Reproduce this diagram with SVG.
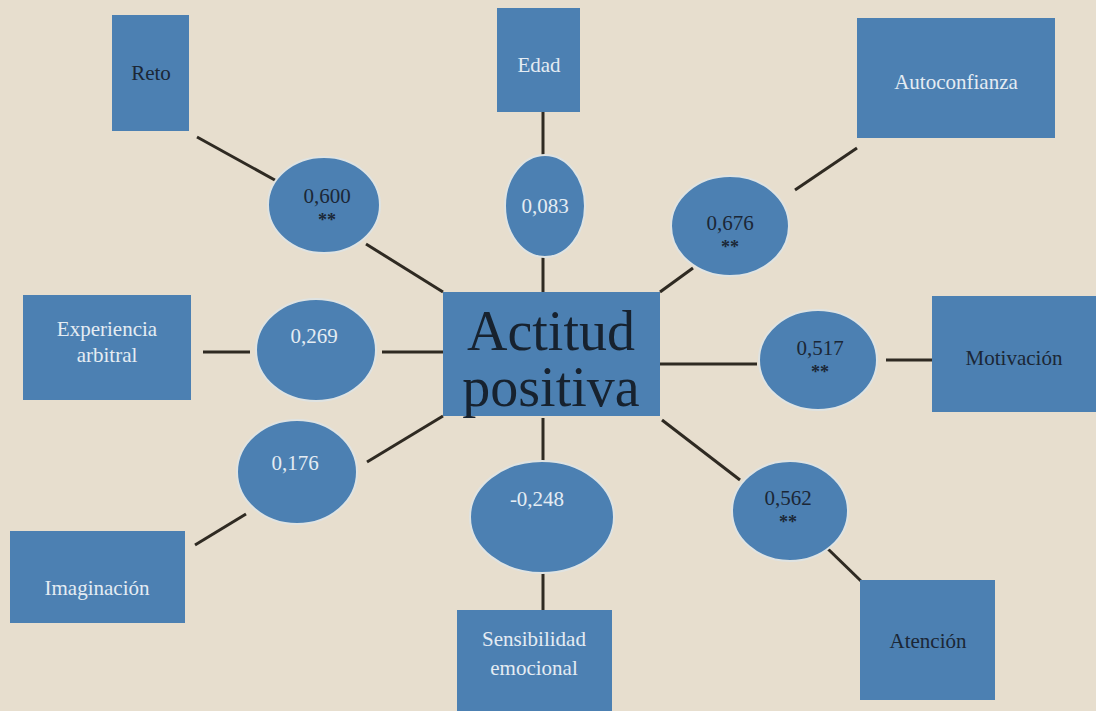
<svg xmlns="http://www.w3.org/2000/svg" width="1096" height="711" viewBox="0 0 1096 711">
<style>
.box{fill:#4c80b2}
.ell{fill:#4c80b2;stroke:#dfe3e2;stroke-width:2}
.ln{stroke:#2f2a22;stroke-width:3;fill:none}
text{font-family:"Liberation Serif",serif;text-anchor:middle}
.dk{fill:#1b2736;font-size:21px}
.wt{fill:#e4ecf3;font-size:21px}
.big{fill:#17222f;font-size:56px}
.st{font-size:18px;font-weight:bold;fill:#1b2736}
</style>
<rect width="1096" height="711" fill="#e7dece"/>
<g id="connectors">
<line class="ln" x1="197" y1="137" x2="282" y2="184"/>
<line class="ln" x1="366" y1="244" x2="443" y2="292"/>
<line class="ln" x1="543" y1="112" x2="543" y2="157"/>
<line class="ln" x1="543" y1="255" x2="543" y2="292"/>
<line class="ln" x1="857" y1="148" x2="795" y2="190"/>
<line class="ln" x1="693" y1="268" x2="660" y2="292"/>
<line class="ln" x1="203" y1="352" x2="250" y2="352"/>
<line class="ln" x1="382" y1="352" x2="443" y2="352"/>
<line class="ln" x1="660" y1="364" x2="757" y2="364"/>
<line class="ln" x1="886" y1="360" x2="932" y2="360"/>
<line class="ln" x1="367" y1="462" x2="443" y2="416"/>
<line class="ln" x1="195" y1="545" x2="246" y2="514"/>
<line class="ln" x1="543" y1="418" x2="543" y2="462"/>
<line class="ln" x1="543" y1="570" x2="543" y2="610"/>
<line class="ln" x1="662" y1="420" x2="740" y2="480"/>
<line class="ln" x1="827" y1="548" x2="862" y2="582"/>
</g>
<g id="reto"><rect class="box" x="112" y="15" width="77" height="116"/><text class="dk" x="151" y="80">Reto</text></g>
<g id="edad"><rect class="box" x="497" y="8" width="83" height="104"/><text class="wt" x="539" y="72">Edad</text></g>
<g id="autoconfianza"><rect class="box" x="857" y="18" width="198" height="120"/><text class="wt" x="956" y="89">Autoconfianza</text></g>
<g id="experiencia"><rect class="box" x="23" y="295" width="168" height="105"/><text class="wt" x="107" y="336">Experiencia</text><text class="wt" x="107" y="362">arbitral</text></g>
<g id="motivacion"><rect class="box" x="932" y="296" width="164" height="116"/><text class="dk" x="1014" y="365">Motivación</text></g>
<g id="imaginacion"><rect class="box" x="10" y="531" width="175" height="92"/><text class="wt" x="97" y="595">Imaginación</text></g>
<g id="sensibilidad"><rect class="box" x="457" y="610" width="155" height="101"/><text class="wt" x="534" y="646">Sensibilidad</text><text class="wt" x="534" y="675">emocional</text></g>
<g id="atencion"><rect class="box" x="860" y="580" width="135" height="120"/><text class="dk" x="928" y="648">Atención</text></g>
<g id="actitud"><rect class="box" x="443" y="292" width="217" height="124"/><text class="big" x="551" y="350">Actitud</text><text class="big" x="551" y="406">positiva</text></g>
<g id="e0600"><ellipse class="ell" cx="324" cy="205" rx="56" ry="48"/><text class="dk" x="327" y="203">0,600</text><text class="st" x="327" y="226">**</text></g>
<g id="e0083"><ellipse class="ell" cx="545" cy="206" rx="40" ry="51"/><text class="wt" x="545" y="213">0,083</text></g>
<g id="e0676"><ellipse class="ell" cx="730" cy="226" rx="59" ry="50"/><text class="dk" x="730" y="230">0,676</text><text class="st" x="730" y="253">**</text></g>
<g id="e0269"><ellipse class="ell" cx="316" cy="350" rx="60" ry="51"/><text class="wt" x="314" y="343">0,269</text></g>
<g id="e0517"><ellipse class="ell" cx="818" cy="360" rx="59" ry="50"/><text class="dk" x="820" y="355">0,517</text><text class="st" x="820" y="378">**</text></g>
<g id="e0176"><ellipse class="ell" cx="297" cy="472" rx="60" ry="52"/><text class="wt" x="295" y="470">0,176</text></g>
<g id="e0248"><ellipse class="ell" cx="542" cy="517" rx="72" ry="56"/><text class="wt" x="537" y="506">-0,248</text></g>
<g id="e0562"><ellipse class="ell" cx="790" cy="511" rx="58" ry="50"/><text class="dk" x="788" y="505">0,562</text><text class="st" x="788" y="528">**</text></g>
</svg>
